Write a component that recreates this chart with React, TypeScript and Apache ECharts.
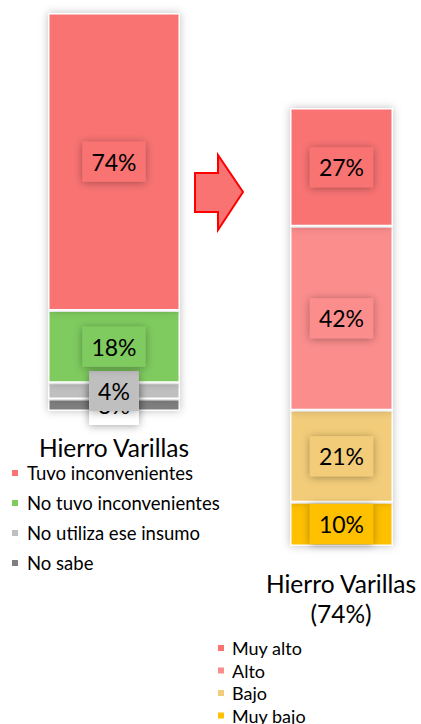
import React, { useEffect, useRef } from "react";
import * as echarts from "echarts";

const categories = ["Hierro Varillas"];
const leftNames = ["Tuvo inconvenientes", "No tuvo inconvenientes", "No utiliza ese insumo", "No sabe"];
const leftValues = [74, 18, 4, 3];
const leftColors = ["#F97373", "#7FCB5F", "#BFBFBF", "#7F7F7F"];
const leftLabelBg = ["#F97373", "#7FCB5F", "#BFBFBF", "#FFFFFF"];

const rightNames = ["Muy alto", "Alto", "Bajo", "Muy bajo"];
const rightValues = [27, 42, 21, 10];
const rightColors = ["#F97373", "#FB8D8D", "#F2CC79", "#FFC000"];

const leftTitle = "Hierro Varillas";
const rightTitle = "Hierro Varillas\n(" + leftValues[0] + "%)";

const FONT = "Lato";

export default function App() {
  const ref = useRef<HTMLDivElement>(null);
  useEffect(() => {
    document.body.style.margin = "0";
    if (!ref.current) return;
    const chart = echarts.init(ref.current, null, { renderer: "svg" });
    const leftSum = leftValues.reduce((a, b) => a + b, 0);
    const rightSum = rightValues.reduce((a, b) => a + b, 0);

    const mkLabel = (bg: string) => ({
      show: true,
      position: "inside",
      formatter: "{c}%",
      color: "#000",
      fontFamily: FONT,
      fontSize: 23,
      lineHeight: 24,
      backgroundColor: bg,
      padding: [8, 9, 8, 9],
      shadowBlur: 8,
      shadowColor: "rgba(0,0,0,0.35)",
      shadowOffsetX: 0,
      shadowOffsetY: 1,
    });

    const series: any[] = [];
    for (let i = leftNames.length - 1; i >= 0; i--) {
      series.push({
        name: leftNames[i],
        type: "bar",
        stack: "left",
        xAxisIndex: 0,
        yAxisIndex: 0,
        barWidth: "100%",
        data: [leftValues[i]],
        itemStyle: {
          color: leftColors[i],
          borderColor: "#fff",
          borderWidth: 1.5,
          shadowBlur: 8,
          shadowColor: "rgba(0,0,0,0.25)",
        },
        label: mkLabel(leftLabelBg[i]),
      });
    }
    for (let i = rightNames.length - 1; i >= 0; i--) {
      series.push({
        name: rightNames[i],
        type: "bar",
        stack: "right",
        xAxisIndex: 1,
        yAxisIndex: 1,
        barWidth: "100%",
        data: [rightValues[i]],
        itemStyle: {
          color: rightColors[i],
          borderColor: "#fff",
          borderWidth: 1.5,
          shadowBlur: 8,
          shadowColor: "rgba(0,0,0,0.25)",
        },
        label: mkLabel(rightColors[i]),
      });
    }

    chart.setOption({
      animation: false,
      grid: [
        { left: 48, width: 132, top: 13, height: 398 },
        { left: 290, width: 103, top: 108, height: 438 },
      ],
      xAxis: [
        { type: "category", data: categories, gridIndex: 0, show: false },
        { type: "category", data: categories, gridIndex: 1, show: false },
      ],
      yAxis: [
        { type: "value", gridIndex: 0, min: 0, max: leftSum, show: false },
        { type: "value", gridIndex: 1, min: 0, max: rightSum, show: false },
      ],
      legend: [
        {
          data: leftNames,
          orient: "vertical",
          left: 5,
          top: 458,
          height: 200,
          icon: "rect",
          itemWidth: 8,
          itemHeight: 8,
          itemGap: 10,
          selectedMode: false,
          textStyle: { fontFamily: FONT, fontSize: 18.5, color: "#000", lineHeight: 20, padding: [0, 0, 0, 3] },
        },
        {
          data: rightNames,
          orient: "vertical",
          left: 211,
          top: 634,
          height: 100,
          icon: "rect",
          itemWidth: 8,
          itemHeight: 8,
          itemGap: 4.5,
          selectedMode: false,
          textStyle: { fontFamily: FONT, fontSize: 18, color: "#000", lineHeight: 17, padding: [0, 0, 0, 2] },
        },
      ],
      graphic: [
        {
          type: "text",
          x: 114,
          y: 447,
          style: { text: leftTitle, fontFamily: FONT, fontSize: 24.5, fill: "#000", align: "center", verticalAlign: "middle" },
        },
        {
          type: "text",
          x: 341,
          y: 598,
          style: { text: rightTitle, fontFamily: FONT, fontSize: 24.5, lineHeight: 30, fill: "#000", align: "center", verticalAlign: "middle" },
        },
        {
          type: "polygon",
          shape: {
            points: [
              [195, 173],
              [218, 173],
              [218, 155],
              [243, 192],
              [218, 230],
              [218, 212],
              [195, 212],
            ],
          },
          style: { fill: "#F97373", stroke: "#FF0000", lineWidth: 2 },
        },
      ],
      series,
    });
    return () => chart.dispose();
  }, []);
  return <div ref={ref} style={{ position: "absolute", left: 0, top: 0, width: 421, height: 724 }} />;
}
